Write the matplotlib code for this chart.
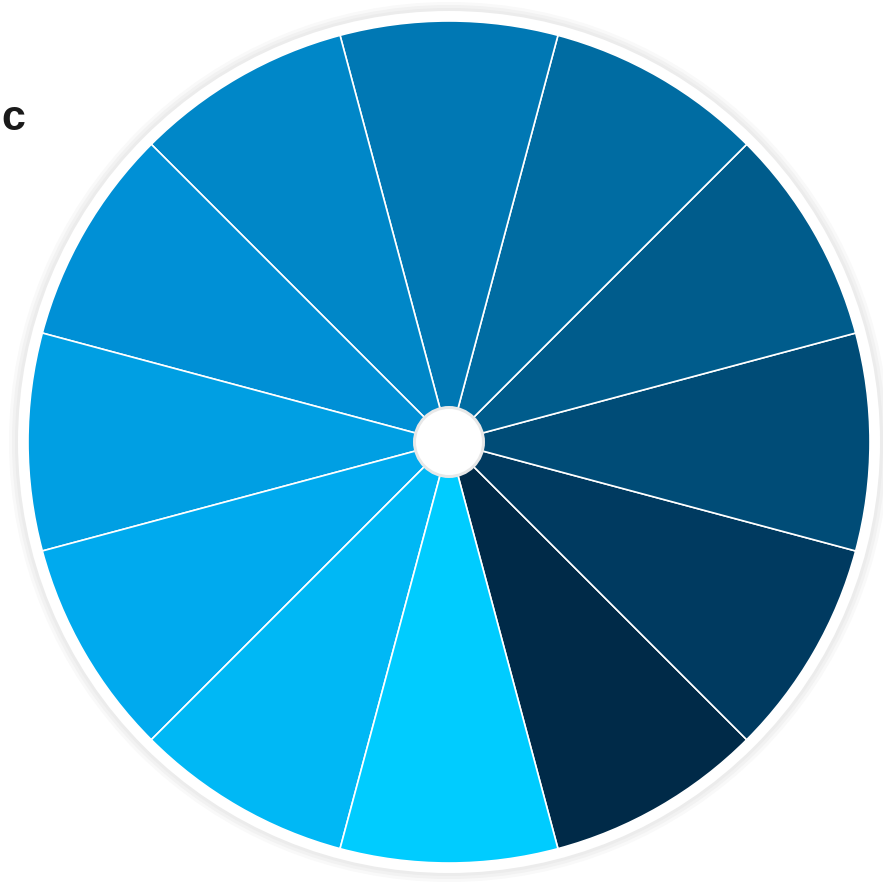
import matplotlib.pyplot as plt
from matplotlib.patches import Circle

# 12 equal sectors, darkest first, going counterclockwise
values = [1] * 12
colors = ['#002a48', '#003a60', '#004c77', '#005c8c', '#006ca2', '#0078b4',
          '#0087c8', '#0090d6', '#009fe3', '#00aaee', '#00b8f5', '#00ccff']
panel_label = 'c'

W, H = 883, 885
fig = plt.figure(figsize=(W / 100, H / 100), dpi=100)
ax = fig.add_axes([0, 0, 1, 1])
ax.set_xlim(0, W)
ax.set_ylim(0, H)
ax.set_aspect('equal')
ax.axis('off')

cx, cy, r = 449, H - 442, 421

# soft outer shadow + white rim
for rr, c in [(440, '#f9f9f9'), (437, '#f2f2f2'), (434, '#ececec'), (431, '#ffffff')]:
    ax.add_patch(Circle((cx, cy), rr, color=c, lw=0, zorder=0))

ax.pie(values, colors=colors, startangle=-75, counterclock=True,
       center=(cx, cy), radius=r, frame=True,
       wedgeprops=dict(edgecolor='white', linewidth=1.2))
ax.set_xlim(0, W)
ax.set_ylim(0, H)
ax.axis('off')

# center hole
ax.add_patch(Circle((cx, cy), 36, color='#e8e8e8', lw=0, zorder=5))
ax.add_patch(Circle((cx, cy), 33, color='white', lw=0, zorder=6))

ax.text(1, H - 119, panel_label, fontsize=31, fontweight='bold',
        family=['Liberation Sans', 'DejaVu Sans'], color='#1a1a1a',
        ha='left', va='center')

fig.savefig('out.png', dpi=100)
